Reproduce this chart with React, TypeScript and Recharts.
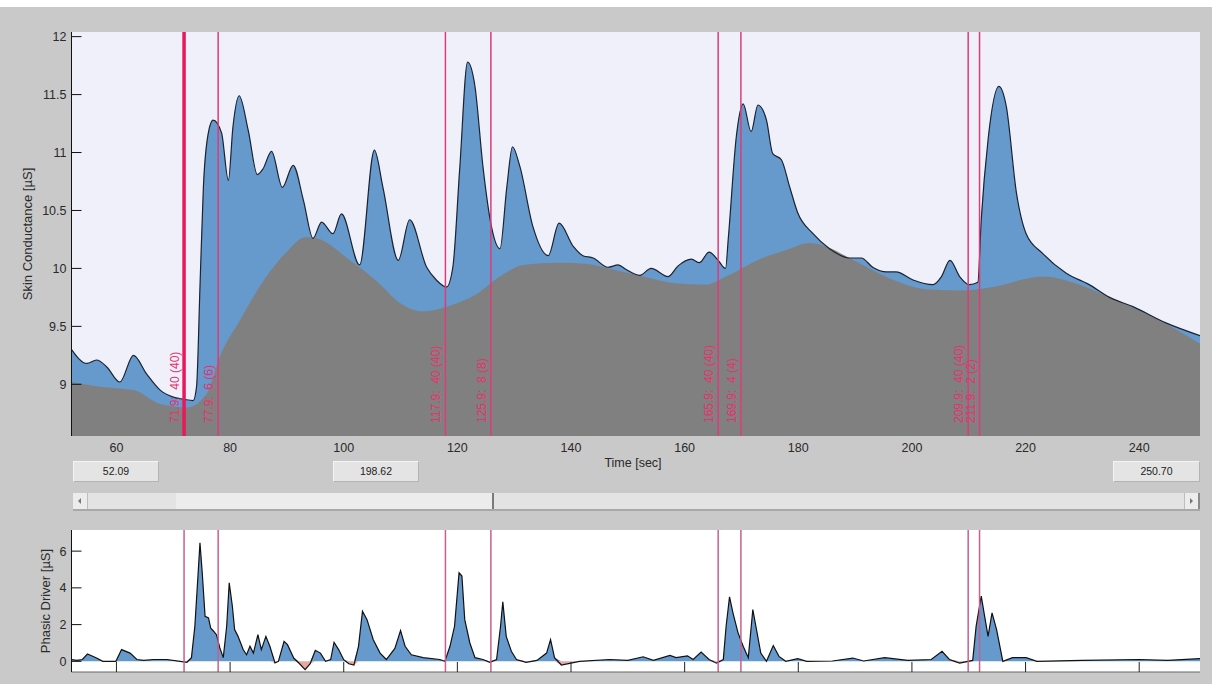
import React from "react";
import {
  ComposedChart,
  Area,
  Line,
  XAxis,
  YAxis,
  CartesianGrid,
  ReferenceLine,
} from "recharts";

// skin conductance (total), seconds / µS
const scTimes = [
  52.1, 54.8, 56.5, 58.3, 60.6, 63.0, 65.3, 67.7, 70.0, 72.0, 73.5, 74.1, 74.7,
  75.3, 76.1, 77.0, 78.5, 79.7, 80.5, 81.6, 83.2, 84.8, 85.8, 87.3, 89.2, 91.1,
  92.9, 94.6, 96.1, 98.1, 99.6, 102.8, 105.4, 106.9, 109.6, 111.6, 114.6, 116.3,
  118.1, 119.2, 120.4, 121.8, 123.1, 124.5, 126.0, 127.5, 128.7, 129.7, 131.0,
  133.3, 136.0, 137.9, 140.4, 142.1, 143.9, 146.5, 148.3, 149.7, 152.1, 154.1,
  157.1, 158.8, 161.2, 162.6, 164.3, 165.9, 167.2, 167.7, 169.1, 170.3, 171.7,
  172.9, 174.4, 175.5, 177.0, 178.5, 179.9, 182.6, 185.5, 189.0, 191.1, 193.1,
  195.5, 197.2, 200.2, 203.7, 205.2, 206.7, 208.4, 210.1, 211.6, 212.2, 213.4,
  215.3, 216.6, 218.4, 220.1, 223.0, 227.1, 231.2, 234.8, 238.9, 244.7, 250.7,
];
const scValues = [
  9.3, 9.18, 9.21, 9.15, 9.02, 9.25, 9.09, 8.95, 8.89, 8.87, 8.86, 8.98, 9.84,
  10.7, 11.15, 11.28, 11.17, 10.76, 11.22, 11.49, 11.19, 10.81, 10.86, 11.01,
  10.7, 10.89, 10.59, 10.26, 10.4, 10.3, 10.47, 10.03, 11.02, 10.7, 10.07,
  10.42, 10.01, 9.9, 9.84, 10.01, 10.85, 11.78, 11.57, 10.88, 10.36, 10.17,
  10.7, 11.05, 10.88, 10.36, 10.11, 10.39, 10.19, 10.11, 10.09, 10.01, 10.03,
  9.99, 9.94, 10.0, 9.93, 10.02, 10.08, 10.05, 10.14, 10.07, 10.0, 10.27, 11.14,
  11.42, 11.18, 11.41, 11.28, 10.99, 10.94, 10.7, 10.48, 10.3, 10.17, 10.09,
  10.09, 10.01, 9.97, 9.97, 9.9, 9.86, 9.93, 10.07, 9.93, 9.86, 9.88, 10.42,
  11.11, 11.57, 11.4, 10.65, 10.3, 10.13, 9.96, 9.86, 9.75, 9.67, 9.53, 9.42,
];

// tonic component
const tonicTimes = [
  52.1, 57.1, 63.0, 67.7, 72.4, 75.9, 78.2, 81.7, 86.4, 89.9, 93.2, 95.2, 101.1,
  106.9, 108.7, 114.0, 118.1, 123.4, 127.5, 131.6, 138.0, 142.7, 147.4, 152.7,
  158.5, 163.8, 167.3, 173.2, 177.9, 182.0, 184.9, 189.0, 193.7, 198.4, 202.5,
  208.4, 214.3, 220.1, 223.0, 228.9, 234.8, 242.9, 250.7,
];
const tonicValues = [
  9.02, 8.98, 8.95, 8.83, 8.8, 8.92, 9.24, 9.55, 9.93, 10.14, 10.27, 10.26,
  10.07, 9.84, 9.75, 9.63, 9.67, 9.78, 9.93, 10.03, 10.05, 10.04, 9.99, 9.93,
  9.87, 9.86, 9.93, 10.08, 10.16, 10.22, 10.19, 10.09, 9.97, 9.87, 9.82, 9.81,
  9.84, 9.91, 9.93, 9.87, 9.75, 9.57, 9.35,
];

// phasic driver
const phasicTimes = [
  52.1, 53.0, 54.0, 54.9, 56.4, 57.6, 59.9, 60.9, 62.4, 63.6, 64.8, 66.5, 68.9,
  71.2, 72.4, 73.2, 73.8, 74.2, 74.7, 75.1, 75.6, 76.2, 76.6, 77.1, 77.6, 78.2,
  78.8, 79.4, 79.85, 80.4, 80.8, 81.4, 82.3, 82.9, 83.5, 84.1, 84.9, 85.5, 86.3,
  87.0, 87.9, 88.5, 89.5, 90.1, 91.2, 92.1, 93.2, 94.1, 95.0, 95.9, 96.8, 97.7,
  98.3, 99.1, 100.0, 100.9, 101.8, 102.6, 103.3, 104.1, 105.2, 106.4, 107.5,
  109.0, 110.0, 110.8, 111.9, 114.0, 116.9, 117.8, 118.7, 119.5, 120.3, 120.8,
  121.3, 122.2, 123.1, 124.5, 125.7, 126.9, 127.6, 128.0, 128.6, 129.5, 130.4,
  132.1, 134.0, 135.7, 136.4, 137.1, 138.3, 141.5, 146.8, 150.0, 152.7, 154.5,
  157.4, 158.5, 160.5, 161.5, 162.9, 164.3, 165.6, 166.8, 167.3, 167.9, 168.5,
  169.4, 170.3, 171.2, 172.0, 173.4, 174.4, 175.6, 176.6, 177.8, 179.9, 181.5,
  186.0, 189.6, 191.5, 195.2, 199.3, 203.4, 205.3, 206.6, 208.4, 210.7, 211.3,
  212.2, 212.8, 213.4, 214.1, 214.9, 216.0, 217.7, 220.1, 222.0, 230.0, 240.0,
  245.0, 250.7,
];
const phasicValues = [
  0.1, 0.05, 0.1, 0.4, 0.2, 0.0, 0.0, 0.64, 0.45, 0.1, 0.05, 0.1, 0.1, 0.0,
  -0.05, 0.2, 1.91, 3.91, 6.45, 4.82, 2.45, 2.36, 1.8, 1.64, 1.45, 0.73, 0.2,
  1.91, 4.27, 3.0, 1.73, 1.36, 0.64, 0.36, 0.82, 0.45, 1.45, 0.64, 1.36, 0.82,
  -0.09, 0.0, 1.09, 0.91, 0.18, -0.09, -0.45, -0.13, 0.6, 0.45, 0.0, 0.1, 1.04,
  0.64, 0.09, -0.13, -0.2, 0.82, 2.73, 2.27, 1.18, 0.45, 0.1, 0.7, 1.67, 0.82,
  0.36, 0.2, 0.1, 0.0, 0.82, 1.91, 4.82, 4.64, 2.27, 1.0, 0.2, 0.1, -0.05, 0.1,
  1.91, 3.24, 1.36, 0.55, 0.1, -0.05, 0.05, 0.45, 1.18, 0.2, -0.2, 0.0, 0.1,
  0.05, 0.25, 0.05, 0.32, 0.2, 0.3, 0.1, 0.5, 0.1, -0.1, 0.1, 1.91, 3.51, 2.64,
  1.55, 0.82, 0.2, 2.82, 0.45, 0.0, 0.86, 0.27, 0.0, 0.15, 0.0, 0.02, 0.18,
  0.02, 0.2, 0.05, 0.1, 0.55, 0.1, -0.1, 0.05, 1.91, 3.55, 2.45, 1.36, 2.64,
  1.73, 0.0, 0.2, 0.2, 0.0, 0.05, 0.1, 0.05, 0.15,
];

// event markers
const markerTimes = [71.9, 77.9, 117.9, 125.9, 165.9, 169.9, 209.9, 211.9];
const markerLabels = [
  "71.9:  40 (40)",
  "77.9:  6 (6)",
  "117.9:  40 (40)",
  "125.9:  8 (8)",
  "165.9:  40 (40)",
  "169.9:  4 (4)",
  "209.9:  40 (40)",
  "211.9:  2 (2)",
];

const timeTicks = [60, 80, 100, 120, 140, 160, 180, 200, 220, 240];
const scTicks = [9, 9.5, 10, 10.5, 11, 11.5, 12];
const phasicTicks = [0, 2, 4, 6];
const windowStart = 52.09;
const windowEnd = 250.7;
const windowWidth = 198.62;

const scData = scTimes.map((t, i) => ({ t, v: scValues[i] }));
const tonicData = tonicTimes.map((t, i) => ({ t, v: tonicValues[i] }));
const phasicData = phasicTimes.map((t, i) => ({ t, v: phasicValues[i] }));

const FONT = "'Liberation Sans', Arial, sans-serif";
const colors = {
  page: "#c9c9c9",
  plotBg: "#f0f0fa",
  phasic: "#6699cc",
  tonic: "#808080",
  negative: "#e6a8a2",
  marker: "#dc3c78",
  markerThick: "#e8185a",
  markerLow: "#c8608c",
  markerText: "#e8306e",
  text: "#2a2a2a",
};

const tickStyle = { fill: colors.text, fontSize: 12.5, fontFamily: FONT };

const markerLabel = (text: string) => (props: any) => {
  const vb = props.viewBox || {};
  const x = (vb.x ?? 0) - 5;
  const y = (vb.y ?? 0) + (vb.height ?? 0) - 13;
  return (
    <text
      x={x}
      y={y}
      transform={`rotate(-90 ${x} ${y})`}
      fill={colors.markerText}
      fontSize={12}
      fontFamily={FONT}
      style={{ whiteSpace: "pre" }}
    >
      {text}
    </text>
  );
};

const axisTitle = (text: string, dx: number) => (props: any) => {
  const vb = props.viewBox || {};
  const x = (vb.x ?? 0) + dx;
  const y = (vb.y ?? 0) + (vb.height ?? 0) / 2;
  return (
    <text
      x={x}
      y={y}
      transform={`rotate(-90 ${x} ${y})`}
      textAnchor="middle"
      dominantBaseline="central"
      fill={colors.text}
      fontSize={13}
      fontFamily={FONT}
    >
      {text}
    </text>
  );
};

const box = (left: number, width: number, text: string) => (
  <div
    style={{
      position: "absolute",
      left,
      top: 461,
      width,
      height: 21,
      boxSizing: "border-box",
      background: "#e4e4e4",
      border: "1px solid #b4b4b4",
      borderTopColor: "#f4f4f4",
      borderLeftColor: "#f4f4f4",
      fontSize: 10.5,
      lineHeight: "19px",
      textAlign: "center",
      color: "#222",
      fontFamily: FONT,
    }}
  >
    {text}
  </div>
);

const App: React.FC = () => {
  return (
    <div
      style={{
        position: "absolute",
        left: 0,
        top: 0,
        width: 1212,
        height: 684,
        background: colors.page,
        overflow: "hidden",
        fontFamily: FONT,
      }}
    >
      <div
        style={{
          position: "absolute",
          left: 0,
          top: 0,
          width: 1212,
          height: 7,
          background: "#ffffff",
        }}
      />

      {/* skin conductance */}
      <div style={{ position: "absolute", left: 0, top: 0 }}>
        <ComposedChart
          width={1212}
          height={470}
          margin={{ top: 32, right: 12, bottom: 4, left: 11.5 }}
        >
          <CartesianGrid
            fill={colors.plotBg}
            stroke="none"
            horizontal={false}
            vertical={false}
          />
          <XAxis
            dataKey="t"
            type="number"
            domain={[windowStart, windowEnd]}
            allowDataOverflow
            ticks={timeTicks}
            axisLine={false}
            tickLine={false}
            tickSize={0}
            tickMargin={7}
            height={30}
            tick={tickStyle}
          />
          <YAxis
            type="number"
            domain={[8.554, 12.04]}
            allowDataOverflow
            ticks={scTicks}
            width={60}
            tickSize={-10}
            tickMargin={15}
            axisLine={{ stroke: "#111" }}
            tickLine={{ stroke: "#111" }}
            tick={tickStyle}
            label={axisTitle("Skin Conductance [µS]", 15.5)}
          />
          <Area
            data={scData}
            dataKey="v"
            type="monotone"
            stroke="none"
            fill={colors.phasic}
            fillOpacity={1}
            isAnimationActive={false}
          />
          <Area
            data={tonicData}
            dataKey="v"
            type="monotone"
            stroke="none"
            fill={colors.tonic}
            fillOpacity={1}
            isAnimationActive={false}
          />
          <Line
            data={scData}
            dataKey="v"
            type="monotone"
            stroke="#1a2330"
            strokeWidth={1.2}
            dot={false}
            isAnimationActive={false}
          />
          {markerTimes.map((t, i) => (
            <ReferenceLine
              key={t}
              x={t}
              stroke={i === 0 ? colors.markerThick : colors.marker}
              strokeWidth={i === 0 ? 3.5 : 1.5}
              label={markerLabel(markerLabels[i])}
            />
          ))}
        </ComposedChart>
      </div>

      <div
        style={{
          position: "absolute",
          left: 633,
          top: 456,
          transform: "translateX(-50%)",
          fontSize: 12.5,
          color: colors.text,
          whiteSpace: "nowrap",
        }}
      >
        Time [sec]
      </div>
      {box(73, 86, windowStart.toFixed(2))}
      {box(333, 86, windowWidth.toFixed(2))}
      {box(1113, 87, windowEnd.toFixed(2))}

      {/* scrollbar */}
      <div
        style={{
          position: "absolute",
          left: 73,
          top: 493,
          width: 1127,
          height: 18,
          background: "#e3e3e3",
          borderBottom: "2px solid #a8a8a8",
          boxSizing: "border-box",
        }}
      />
      <div
        style={{
          position: "absolute",
          left: 176,
          top: 493,
          width: 318,
          height: 16,
          background: "#ececec",
          borderRight: "2px solid #7a7a7a",
          boxSizing: "border-box",
        }}
      />
      <div
        style={{
          position: "absolute",
          left: 73,
          top: 493,
          width: 15,
          height: 16,
          background: "#ececec",
          borderRight: "1px solid #bdbdbd",
          boxSizing: "border-box",
        }}
      >
        <div
          style={{
            position: "absolute",
            left: 5,
            top: 5,
            width: 0,
            height: 0,
            borderTop: "3px solid transparent",
            borderBottom: "3px solid transparent",
            borderRight: "3px solid #777",
          }}
        />
      </div>
      <div
        style={{
          position: "absolute",
          left: 1184,
          top: 493,
          width: 16,
          height: 16,
          background: "#ececec",
          borderLeft: "1px solid #bdbdbd",
          borderRight: "2px solid #8a8a8a",
          boxSizing: "border-box",
        }}
      >
        <div
          style={{
            position: "absolute",
            left: 5,
            top: 5,
            width: 0,
            height: 0,
            borderTop: "3px solid transparent",
            borderBottom: "3px solid transparent",
            borderLeft: "3px solid #777",
          }}
        />
      </div>

      {/* phasic driver */}
      <div style={{ position: "absolute", left: 0, top: 500 }}>
        <ComposedChart
          width={1212}
          height={184}
          margin={{ top: 30, right: 12, bottom: 2, left: 11.5 }}
        >
          <CartesianGrid
            fill="#ffffff"
            stroke="none"
            horizontal={false}
            vertical={false}
          />
          <XAxis
            dataKey="t"
            type="number"
            domain={[windowStart, windowEnd]}
            allowDataOverflow
            ticks={timeTicks}
            height={10}
            tickSize={-10}
            tickFormatter={() => ""}
            axisLine={{ stroke: "#666" }}
            tickLine={{ stroke: "#222" }}
          />
          <YAxis
            type="number"
            domain={[-0.58, 7.15]}
            allowDataOverflow
            ticks={phasicTicks}
            width={60}
            tickSize={-10}
            tickMargin={15}
            axisLine={{ stroke: "#111" }}
            tickLine={{ stroke: "#111" }}
            tick={tickStyle}
            label={axisTitle("Phasic Driver [µS]", 33.5)}
          />
          <Area
            data={phasicData}
            dataKey={(d: any) => Math.max(d.v, 0)}
            type="linear"
            baseValue={0}
            stroke="none"
            fill={colors.phasic}
            fillOpacity={1}
            isAnimationActive={false}
          />
          <Area
            data={phasicData}
            dataKey={(d: any) => Math.min(d.v, 0)}
            type="linear"
            baseValue={0}
            stroke="none"
            fill={colors.negative}
            fillOpacity={1}
            isAnimationActive={false}
          />
          <Line
            data={phasicData}
            dataKey="v"
            type="linear"
            stroke="#111"
            strokeWidth={1.2}
            dot={false}
            isAnimationActive={false}
          />
          {markerTimes.map((t) => (
            <ReferenceLine
              key={t}
              x={t}
              stroke={colors.markerLow}
              strokeWidth={1.5}
            />
          ))}
        </ComposedChart>
      </div>
    </div>
  );
};

export default App;
